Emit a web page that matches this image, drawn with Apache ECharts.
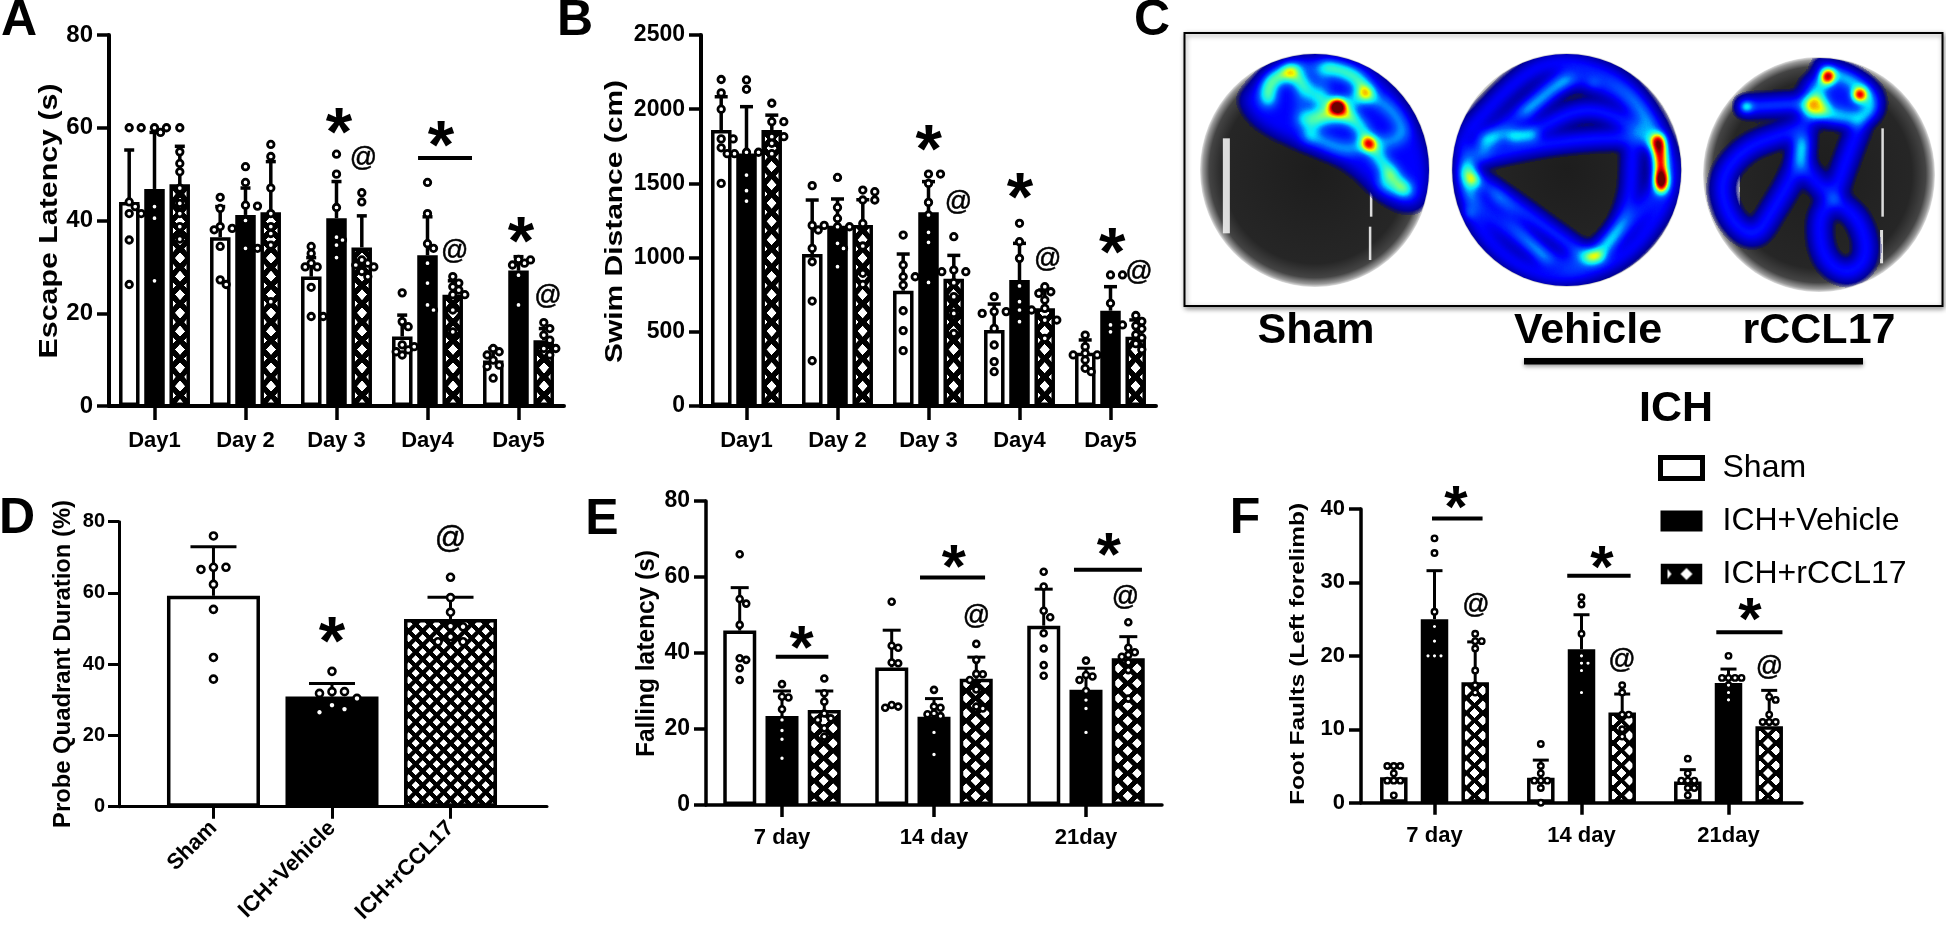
<!DOCTYPE html>
<html><head><meta charset="utf-8">
<style>html,body{margin:0;padding:0;background:#fff}#c{width:1946px;height:928px}</style>
<script src="https://cdn.jsdelivr.net/npm/echarts@6/dist/echarts.min.js"></script>
</head><body><div id="c"></div>
<script>
const groupNames = ['Sham','ICH+Vehicle','ICH+rCCL17'];
const dayLabels = ['Day1','Day 2','Day 3','Day4','Day5'];
const timeLabels = ['7 day','14 day','21day'];

// A: Escape Latency (s)
const escapeMean = [[44,36.4,27.9,15,9.8],[46.8,41.2,40.5,32.5,29.2],[47.8,41.8,34.2,24,14.2]];
const escapeUpper = [[55.2,43,32,19.6,12.4],[59,47,48.4,40.8,32.2],[56,52.7,41,27,16.7]];
const escapeSham = [[60,60,44,43,41.5,41.5,35.8,26.2],[45,42.6,38.7,38.3,38,34.4,27.2,26.2],[34.4,32.9,30.8,30,30,25.6,19.3,19.3],[24.4,18.2,17.1,13.2,12.8,12.1,11.7,11],[12.4,11.7,11,9.9,8.8,8.5,6]];
const escapeVehicle = [[60,60,59,43,40.5,27],[51.6,48.2,43.3,43.1,40,34,34],[54.3,50,42.8,36.4,35.8,34.7,32],[48.2,41.5,35,34,30.8,26.5,21.8,20.7],[31.6,31.5,30.8,30.4,28.2,21.8]];
const escapeCCL = [[60,54.8,52.3,50.5,47,43.7,41.5,38.7,36],[56.4,53.8,47,41.5,38.7,37.2,34.7,22.5],[46,44,31.5,30.8,30.4,30,29,27.9],[27.9,26.5,25.7,25,24,24,20.7,16],[18,16.7,15.3,14.2,12.4,12.4,11]];

// B: Swim Distance (cm)
const swimMean = [[1860,1024,777,512,359],[1702,1215,1305,849,642],[1860,1220,858,658,467]];
const swimUpper = [[2084,1388,1024,687,445],[2017,1395,1512,1096,804],[1960,1390,1015,782,580]];
const swimSham = [[2200,2110,2000,1800,1800,1740,1700,1500],[1485,1217,1217,1186,1062,972,707,305],[1152,950,871,871,815,642,508,373],[737,636,636,624,523,411,299,231],[478,400,355,344,344,310,254,231]];
const swimVehicle = [[2197,2134,1710,1710,1700,1556,1451,1381],[1540,1338,1264,1208,1208,1096,1062,939],[1563,1563,1500,1372,1287,1170,1103,833],[1231,1107,995,809,703,647,647,568],[883,883,692,546,546,500]];
const swimCCL = [[2040,1916,1916,1815,1815,1770,1700],[1455,1444,1388,1388,1230,1078,894,820],[1141,916,905,905,831,737,624,490],[804,770,759,714,658,579,579,456],[610,570,540,520,480,460,420,380]];

// D: Probe Quadrant Duration (%)
const probeMean = [59.2,30.9,52.7];
const probeUpper = [73,34.6,58.8];
const probeSham = [76,67.2,67.2,66.6,62.4,55.4,41.9,35.8];
const probeVehicle = [38,32.3,32.3,31.8,30.4,28.5,27.4,26.5];
const probeCCL = [64.4,58.7,54.6,50.7,50.5,47.7,46.3,46.3];

// E: Falling latency (s)
const fallMean = [[45.9,36.2,47.2],[23.4,23.2,30.3],[25,33.2,38.6]];
const fallUpper = [[57.2,46,56.8],[30,28,36],[30,38.9,44.3]];
const fallSham = [[66,54.2,53,47.4,38.6,38.2,36,32.9],[53.5,41.9,41.4,37.5,37.3,26.3,25.9,25.6],[61.4,57.5,51.1,49.4,45.2,41.2,36.8,34]];
const fallVehicle = [[31.8,28.5,28.3,25.2,22.4,19.6,17.3,12.3],[30.3,25.9,25.6,24.1,23.9,23.4,19.1,13.3],[38,34.2,33.8,32.9,30,27.6,25.4,19.1]];
const fallCCL = [[33.3,29.4,27.2,24.1,22.8,22.4,20.2,18],[42.4,38.2,34.5,34.4,32.9,30.4,25.9,25.4],[48.1,41.4,40.2,39.5,39,37.5,35.5,28]];

// F: Foot Faults (Left forelimb)
const faultMean = [[3.45,3.4,2.9],[25,20.9,16.3],[16.4,12.3,10.4]];
const faultUpper = [[5,5.8,4.5],[31.6,25.6,18.2],[21.9,14.8,15.3]];
const faultSham = [[5,5,5,4,3,3,3,1],[8,5,4,3,3,3,2,0],[6,4,3,3,3,2,2,1]];
const faultVehicle = [[36,34,26,24,22,20,20,20],[28,27,23,20,19,19,18,15],[20,17,17,17,17,16,15,14]];
const faultCCL = [[23,22,22,21,18,16,15],[16,15,12,12,10,9],[14.4,14,12,11,11,11]];

// Significance marks, in axis units: [x, y]
const starsA=[[2.027,61.2],[3.148,58.4],[4.027,37.5]], atsA=[[2.297,53.3],[3.30,33.4],[4.324,23.5]], barsA=[[2.896,3.489,53.5]];
const starsB=[[2.003,1793],[3.004,1469],[4.02,1098]], atsB=[[2.33,1368],[3.31,984],[4.313,896]], barsB=[];
const starsD=[[1,49]], atsD=[[2,74.9]], barsD=[];
const starsE=[[0.128,43.9],[1.13,65],[2.15,68.3]], atsE=[[1.28,49.7],[2.26,54.7]], barsE=[[-0.041,0.305,39],[0.908,1.336,59.9],[1.921,2.368,61.9]];
const starsF=[[0.146,41.5],[1.139,33.3],[2.146,26.2]], atsF=[[0.282,26.9],[1.275,19.4],[2.279,18.4]], barsF=[[-0.017,0.327,38.7],[0.903,1.334,30.9],[1.917,2.367,23.2]];

const FONT = '"Liberation Sans", Arial, sans-serif';

function tile(w, h, rx, ry, px, py){
  const s=4, cw=Math.round(w*s), ch=Math.round(h*s);
  const c=document.createElement('canvas'); c.width=cw; c.height=ch;
  const g=c.getContext('2d');
  g.fillStyle='#000'; g.fillRect(0,0,cw,ch); g.fillStyle='#fff';
  const dia=(x,y)=>{g.beginPath();g.moveTo(x-rx*s,y);g.lineTo(x,y-ry*s);g.lineTo(x+rx*s,y);g.lineTo(x,y+ry*s);g.closePath();g.fill();};
  dia(cw/2,ch/2); [[0,0],[cw,0],[0,ch],[cw,ch]].forEach(p=>dia(p[0],p[1]));
  return {image:c, repeat:'repeat', x:px-w/2, y:py-h/2, scaleX:w/cw, scaleY:h/ch};
}
function legendTile(){
  const c=document.createElement('canvas'); c.width=42; c.height=21;
  const g=c.getContext('2d');
  g.fillStyle='#000'; g.fillRect(0,0,42,21); g.fillStyle='#fff';
  g.beginPath();g.moveTo(7,5.5);g.lineTo(11,10.5);g.lineTo(7,15.5);g.closePath();g.fill();
  g.beginPath();g.moveTo(20,10.5);g.lineTo(26,4.5);g.lineTo(32,10.5);g.lineTo(26,16.5);g.closePath();g.fill();
  return {image:c, repeat:'no-repeat'};
}

function swarm(vals, pxPerUnit, d, step){
  const placed=[];
  return vals.map(v=>{
    const py=v*pxPerUnit;
    for(const k of [0,1,-1,2,-2,3,-3]){
      const x=k*step;
      if(placed.every(p=>Math.hypot(p[0]-x,p[1]-py)>=d)){ placed.push([x,py]); return x; }
    }
    placed.push([0,py]); return 0;
  });
}

const grid=[], xAxis=[], yAxis=[], series=[];

function panel(o){
  const gi=grid.length;
  grid.push({left:o.left, top:o.top, width:o.width, height:o.height, containLabel:false});
  const band=o.band, xMin=o.xMin, xMax=o.xMax;
  const axisStyle={lineStyle:{color:'#000',width:o.lw}};
  const tickStyle={show:true,length:o.tickX,lineStyle:{color:'#000',width:o.tw}};
  const labelStyle={color:'#000',fontFamily:FONT,fontWeight:'bold',fontSize:o.xFont,margin:o.xMargin};
  const ci=xAxis.length;
  if(o.valueX){
    xAxis.push({gridIndex:gi,type:'value',min:xMin,max:xMax,splitLine:{show:false},axisLine:Object.assign({onZero:false},axisStyle),
      axisTick:Object.assign({},tickStyle,{customValues:[0,1,2]}),
      axisLabel:Object.assign({},labelStyle,{customValues:[0,1,2],rotate:o.rotate,formatter:v=>o.labels[v]})});
  } else {
    xAxis.push({gridIndex:gi,type:'category',data:o.labels,boundaryGap:true,axisLine:Object.assign({onZero:false},axisStyle),
      axisTick:Object.assign({},tickStyle,{alignWithLabel:true}),axisLabel:Object.assign({interval:0},labelStyle)});
  }
  const vi=xAxis.length;
  xAxis.push({gridIndex:gi,type:'value',min:xMin,max:xMax,show:false,splitLine:{show:false}});
  const yi=yAxis.length;
  yAxis.push({gridIndex:gi,type:'value',min:0,max:o.max,interval:o.interval,splitLine:{show:false},
    axisLine:Object.assign({show:true,onZero:false},axisStyle),
    axisTick:{show:true,length:o.tickY,lineStyle:{color:'#000',width:o.tw}},
    axisLabel:{color:'#000',fontFamily:FONT,fontWeight:'bold',fontSize:o.yFont,margin:o.yMargin,formatter:v=>String(v)}});

  const fills=[{color:'#fff',borderColor:'#000',borderWidth:o.bw},{color:'#000',borderColor:'#000',borderWidth:o.bw},{color:o.pattern,borderColor:'#000',borderWidth:o.bw}];
  const pxPerUnit=o.height/o.max;
  const offs=[-o.step,0,o.step];

  if(o.valueX){
    series.push({type:'bar',name:'Probe',xAxisIndex:ci,yAxisIndex:yi,barWidth:o.barWidth,z:2,
      data:o.mean.map((v,i)=>({value:[i,v],itemStyle:fills[i]}))});
  } else {
    groupNames.forEach((nm,s)=>series.push({type:'bar',name:nm,xAxisIndex:ci,yAxisIndex:yi,barWidth:o.barWidth,barGap:o.barGap,z:2,itemStyle:fills[s],data:o.mean[s]}));
  }
  const errs=[], pts=[];
  if(o.valueX){
    o.mean.forEach((m,i)=>errs.push([i,m,o.upper[i]]));
    o.points.forEach((vals,i)=>{const xs=swarm(vals,pxPerUnit,o.dot,o.spread);vals.forEach((v,k)=>pts.push([i+xs[k]/band,v]));});
  } else {
    o.mean.forEach((arr,s)=>arr.forEach((m,i)=>errs.push([i+offs[s]/band,m,o.upper[s][i]])));
    o.points.forEach((byGroup,s)=>byGroup.forEach((vals,i)=>{
      const xs=swarm(vals,pxPerUnit,o.dot,o.spread);
      vals.forEach((v,k)=>pts.push([i+(offs[s]+xs[k])/band,v]));
    }));
  }
  series.push({type:'custom',name:'err',xAxisIndex:vi,yAxisIndex:yi,z:3,silent:true,clip:false,encode:{x:0,y:[1,2]},data:errs,
    renderItem:(p,api)=>{
      const a=api.coord([api.value(0),api.value(1)]), b=api.coord([api.value(0),api.value(2)]);
      const st={stroke:'#000',lineWidth:o.ew,fill:null};
      return {type:'group',children:[
        {type:'line',shape:{x1:a[0],y1:a[1],x2:b[0],y2:b[1]},style:st},
        {type:'line',shape:{x1:b[0]-o.cap,y1:b[1],x2:b[0]+o.cap,y2:b[1]},style:st}]};
    }});
  series.push({type:'scatter',name:'pts',xAxisIndex:vi,yAxisIndex:yi,z:4,silent:true,symbol:'circle',symbolSize:o.ms,
    itemStyle:{color:'#fff',borderColor:'#000',borderWidth:o.mb,opacity:1},data:pts});
  const marks=o.bars.map(b=>[b[0],b[2],b[1]]);
  if(marks.length) series.push({type:'custom',name:'sig',xAxisIndex:vi,yAxisIndex:yi,z:5,silent:true,clip:false,encode:{x:[0,2],y:1},data:marks,
    renderItem:(p,api)=>{
      const a=api.coord([api.value(0),api.value(1)]), b=api.coord([api.value(2),api.value(1)]);
      return {type:'line',shape:{x1:a[0],y1:a[1],x2:b[0],y2:b[1]},style:{stroke:'#000',lineWidth:4,fill:null}};
    }});
  const txt=(data,text,font,dy,sw)=>series.push({type:'custom',name:text,xAxisIndex:vi,yAxisIndex:yi,z:6,silent:true,clip:false,encode:{x:0,y:1},data,
    renderItem:(p,api)=>{
      const a=api.coord([api.value(0),api.value(1)]);
      return {type:'text',x:a[0],y:a[1]+dy,style:{text,font,fill:'#000',stroke:sw?'#000':null,lineWidth:sw,align:'center',verticalAlign:'middle'}};
    }});
  txt(o.stars,'*','bold '+o.starFont+'px '+FONT,o.starFont*0.2,0);
  txt(o.ats,'@',o.atFont+'px '+FONT,0,0.5);
}

panel({left:109,top:35,width:455,height:371,band:91,labels:dayLabels,xMin:-0.5,xMax:4.5,max:80,interval:20,
  yFont:24,xFont:22,xMargin:24,yMargin:16,lw:4,tw:3.5,tickX:14,tickY:12,bw:3.5,barWidth:20.5,barGap:'23%',step:25.3,ew:3.5,cap:5,ms:6.5,mb:2.8,dot:6.5,spread:6,
  mean:escapeMean,upper:escapeUpper,points:[escapeSham,escapeVehicle,escapeCCL],stars:starsA,ats:atsA,bars:barsA,starFont:68,atFont:27,
  pattern:tile(18.2,18.3,5,5.5,180,258)});
panel({left:701,top:35,width:455,height:371,band:91,labels:dayLabels,xMin:-0.5,xMax:4.5,max:2500,interval:500,
  yFont:23,xFont:22,xMargin:24,yMargin:16,lw:4,tw:3.5,tickX:14,tickY:12,bw:3.5,barWidth:20.5,barGap:'23%',step:25.3,ew:3.5,cap:6.5,ms:6.5,mb:2.8,dot:6.5,spread:6,
  mean:swimMean,upper:swimUpper,points:[swimSham,swimVehicle,swimCCL],stars:starsB,ats:atsB,bars:barsB,starFont:68,atFont:27,
  pattern:tile(18.2,18.3,5,5.5,771.6,258)});
panel({left:119,top:521.7,width:428,height:285,band:118.5,labels:groupNames,valueX:true,rotate:45,xMin:-0.797,xMax:2.814,max:80,interval:20,
  yFont:20,xFont:22,xMargin:18,yMargin:14,lw:3,tw:3,tickX:12,tickY:11,bw:3.5,barWidth:93,step:0,ew:3,cap:23,ms:7,mb:2.6,dot:8,spread:12.5,
  mean:probeMean,upper:probeUpper,points:[probeSham,probeVehicle,probeCCL],stars:starsD,ats:atsD,bars:barsD,starFont:68,atFont:31,
  pattern:tile(14,14,4,4,450.6,638.3)});
panel({left:706,top:501,width:456,height:304,band:152,labels:timeLabels,xMin:-0.5,xMax:2.5,max:80,interval:20,
  yFont:23,xFont:22,xMargin:22,yMargin:16,lw:3.5,tw:3.5,tickX:12,tickY:12,bw:3.5,barWidth:33,barGap:'28%',step:42.3,ew:3,cap:9,ms:6,mb:2.6,dot:6.5,spread:6.5,
  mean:fallMean,upper:fallUpper,points:[fallSham,fallVehicle,fallCCL],stars:starsE,ats:atsE,bars:barsE,starFont:62,atFont:27,
  pattern:tile(19,15,5,5,823.6,735.7)});
panel({left:1361,top:509,width:441,height:293.7,band:147,labels:timeLabels,xMin:-0.5,xMax:2.5,max:40,interval:10,
  yFont:22,xFont:22,xMargin:22,yMargin:16,lw:3.5,tw:3.5,tickX:12,tickY:12,bw:3.5,barWidth:27.5,barGap:'48%',step:40.7,ew:3,cap:8,ms:5.5,mb:2.4,dot:6.5,spread:6.5,
  mean:faultMean,upper:faultUpper,points:[faultSham,faultVehicle,faultCCL],stars:starsF,ats:atsF,bars:barsF,starFont:60,atFont:27,
  pattern:tile(16.3,15,5,5,1474.6,713)});

// ---- Panel C: tracking heat maps, painted to one bitmap and placed as a graphic ----
function heatBitmap(){
  const X0=1184,Y0=33,W=760,H=274;
  const P=(x,y)=>[x/1.92+1130-X0,y/3-Y0];
  const c=document.createElement('canvas');c.width=W;c.height=H;const g=c.getContext('2d');
  const discs=[[1315,170,115,117],[1566.7,170,115.5,117],[1819,174.5,116,117.5]];
  discs.forEach(d=>{
    const [cx,cy,rx,ry]=d;
    g.save();g.translate(cx-X0,cy-Y0);g.scale(rx/ry,1);
    const r=g.createRadialGradient(0,0,0,0,0,ry);
    r.addColorStop(0,'#1d1d1d');r.addColorStop(.8,'#262626');r.addColorStop(.92,'#444');r.addColorStop(.975,'#9a9a9a');r.addColorStop(1,'#e2e2e2');
    g.fillStyle=r;g.beginPath();g.arc(0,0,ry,0,Math.PI*2);g.fill();g.restore();
  });
  const streak=(x,y1,y2,w)=>{const a=P(x,y1),b=P(x,y2);g.fillStyle='rgba(240,240,240,.9)';g.fillRect(a[0]-w/2,a[1],w,b[1]-a[1]);};
  streak(185,415,700,7);streak(463,570,650,2.5);streak(461,680,780,2.5);streak(1445,385,650,2.5);streak(1443,690,790,3);streak(1165,430,650,6);

  function curve(ctx,pts){
    const p=pts.map(q=>P(q[0],q[1]));
    ctx.beginPath();ctx.moveTo(p[0][0],p[0][1]);
    for(let i=1;i<p.length-1;i++){const mx=(p[i][0]+p[i+1][0])/2,my=(p[i][1]+p[i+1][1])/2;ctx.quadraticCurveTo(p[i][0],p[i][1],mx,my);}
    ctx.lineTo(p[p.length-1][0],p[p.length-1][1]);
  }
  function layer(spec,disc){
    const f=document.createElement('canvas');f.width=W;f.height=H;const k=f.getContext('2d');
    k.filter='blur(6px)';k.globalCompositeOperation='lighter';k.lineCap='round';k.lineJoin='round';
    (spec.fill||[]).forEach(s=>{k.fillStyle='rgba(255,255,255,'+s[0]+')';curve(k,s[1].concat([s[1][0]]));k.closePath();k.fill();});
    spec.tubes.forEach(s=>{k.strokeStyle='rgba(255,255,255,'+s[0]+')';k.lineWidth=s[1];curve(k,s[2]);k.stroke();});
    k.filter='blur(4.5px)';
    spec.hot.forEach(s=>{const p=P(s[1],s[2]);const q=P(s[1]+(s[4]||0),s[2]+(s[5]||0));k.strokeStyle='rgba(255,255,255,'+s[0]+')';k.lineWidth=s[3];k.beginPath();k.moveTo(p[0],p[1]);k.lineTo(q[0]+.01,q[1]);k.stroke();});
    const im=k.getImageData(0,0,W,H),d=im.data;
    const stops=[[0,0,0,110],[.07,0,0,170],[.2,0,0,255],[.32,0,90,255],[.43,0,230,255],[.55,90,255,160],[.66,240,255,0],[.76,255,130,0],[.86,255,0,0],[1,110,0,0]];
    for(let i=0;i<d.length;i+=4){
      const t=d[i+3]/255;
      if(t<.015){d[i+3]=0;continue;}
      let a=stops[0],b=stops[stops.length-1];
      for(let j=0;j<stops.length-1;j++){if(t>=stops[j][0]&&t<=stops[j+1][0]){a=stops[j];b=stops[j+1];break;}}
      const u=(t-a[0])/(b[0]-a[0]||1);
      d[i]=a[1]+(b[1]-a[1])*u;d[i+1]=a[2]+(b[2]-a[2])*u;d[i+2]=a[3]+(b[3]-a[3])*u;
      d[i+3]=Math.min(255,t/.05*255);
    }
    k.putImageData(im,0,0);
    g.save();g.translate(disc[0]-X0,disc[1]-Y0);g.scale(disc[2]/disc[3],1);g.beginPath();g.arc(0,0,disc[3]-1,0,Math.PI*2);g.restore();
    g.save();g.clip();g.drawImage(f,0,0);g.restore();
  }
  // Sham
  layer({fill:[[.2,[[215,300],[250,210],[350,160],[450,190],[500,260],[545,350],[575,500],[565,610],[530,630],[480,590],[420,490],[330,440],[240,370]]]],
    tubes:[[.5,11,[[265,300],[262,240],[310,215]]],[.32,11,[[310,215],[350,290],[400,320]]],[.45,11,[[375,200],[430,215],[455,280]]],[.3,10,[[455,280],[405,320]]],
      [.4,10,[[330,360],[400,320],[440,370],[458,430],[500,520],[530,570]]],[.28,9,[[340,410],[350,360],[420,350]]],
      [.26,9,[[458,430],[535,430],[510,330],[450,280]]],[.28,9,[[458,430],[420,460],[350,410]]],[.28,9,[[500,520],[470,560],[530,570]]],[.16,8,[[330,235],[330,330]]],[.16,8,[[300,200],[370,190],[370,290]]]],
    hot:[[1,398,318,11],[.55,458,432,9]]},discs[0]);
  // Vehicle
  layer({fill:[],tubes:[[.26,15,[[690,410],[760,330],[830,225],[900,250],[960,300],[1010,420],[1022,540],[980,640],[890,770],[830,800],[750,720],[670,620],[640,510],[690,410]]],
      [.3,12,[[680,420],[770,400],[850,330],[910,330],[975,390]]],[.3,12,[[680,470],[800,425],[960,410],[1010,430]]],[.32,12,[[650,520],[700,570],[850,740],[880,770]]],
      [.24,12,[[760,340],[840,240]]],[.3,11,[[900,770],[960,640],[965,450]]],[.24,14,[[640,420],[640,560],[660,670],[730,790],[830,845],[950,780],[1030,620],[1045,500],[1000,340],[940,230],[840,175],[760,210],[650,390]]],
      [.22,10,[[700,590],[800,780]]]],
    hot:[[.75,1015,420,10,5,130],[.5,1020,530,9,0,40],[.26,735,410,10,40,-5],[.28,660,540,10],[.22,650,640,9],[.3,885,772,10,15,-5],[.14,890,250,8]]},discs[1]);
  // rCCL17
  layer({fill:[[.22,[[1290,260],[1330,180],[1440,260],[1440,350],[1390,370],[1300,370]]]],
    tubes:[[.36,12,[[1182,320],[1240,315],[1300,310]]],[.26,15,[[1300,340],[1290,450],[1270,540],[1230,640],[1200,720],[1150,660],[1130,540],[1180,440],[1260,400],[1290,380]]],
      [.26,14,[[1400,380],[1370,500],[1350,600],[1320,650],[1330,780],[1380,830],[1420,770],[1400,650],[1350,600],[1290,500],[1290,430]]],
      [.3,11,[[1330,200],[1400,240],[1430,320],[1400,370],[1300,320],[1340,225]]]],
    hot:[[.55,1182,320,9],[.85,1340,225,10,0,8],[.95,1400,285,11],[.22,1320,320,24],[.18,1352,597,8]]},discs[2]);
  return {image:c,x:X0,y:Y0,W,H};
}
const bmp=heatBitmap();
const T=(text,x,y,size,bold)=>({type:'text',x,y,silent:true,style:{text,font:(bold?'bold ':'')+size+'px '+FONT,fill:'#000',align:'center',verticalAlign:'middle'}});
// Y-axis titles: fitted along their length, since the source figure is stretched vertically
function yTitle(text,cx,cy,len,size){
  const font='bold '+size+'px '+FONT;
  const m=document.createElement('canvas').getContext('2d'); m.font=font;
  return {type:'text',x:cx,y:cy,rotation:Math.PI/2,scaleX:len/m.measureText(text).width,silent:true,
    style:{text,font,fill:'#000',align:'center',verticalAlign:'middle'}};
}
const graphic=[
  {type:'rect',silent:true,shape:{x:1184.5,y:33,width:758,height:273},z:-1,style:{fill:'#fff',stroke:'#000',lineWidth:2,shadowBlur:5,shadowColor:'rgba(0,0,0,.4)',shadowOffsetX:1,shadowOffsetY:2}},
  {type:'image',silent:true,x:bmp.x,y:bmp.y,style:{image:bmp.image,x:0,y:0,width:bmp.W,height:bmp.H}},
  {type:'rect',silent:true,shape:{x:1524,y:358,width:339,height:6.5},style:{fill:'#000',shadowBlur:4,shadowColor:'rgba(0,0,0,.4)',shadowOffsetY:2}},
  T('Sham',1316,331,43,true),T('Vehicle',1588,331,43,true),T('rCCL17',1819,331,43,true),T('ICH',1676,409,43,true),
  T('A',19,21,50,true),T('B',575,21,50,true),T('C',1152,21,50,true),T('D',17,519,50,true),T('E',602,520,50,true),T('F',1245,519,50,true),
  yTitle('Escape Latency (s)',50,221,275,25),
  yTitle('Swim Distance (cm)',615.5,221.5,283,24),
  yTitle('Probe Quadrant Duration (%)',63,664,328,24),
  yTitle('Falling latency (s)',647,653.5,207,25),
  yTitle('Foot Faults (Left forelimb)',1298.7,654,302,21)
];
const option={
  animation:false,
  backgroundColor:'#fff',
  grid,xAxis,yAxis,series,
  graphic:{elements:graphic},
  legend:{orient:'vertical',left:1653,top:447,selectedMode:false,itemWidth:42,itemHeight:21,itemGap:21,
    textStyle:{color:'#000',fontFamily:FONT,fontSize:32,padding:[0,0,0,15]},
    data:[{name:'Sham',icon:'rect',itemStyle:{color:'#fff',borderColor:'#000',borderWidth:5}},
      {name:'ICH+Vehicle',icon:'rect',itemStyle:{color:'#000',borderColor:'#000',borderWidth:0}},
      {name:'ICH+rCCL17',icon:'rect',itemStyle:{color:legendTile(),borderColor:'#000',borderWidth:0}}]}
};
const chart=echarts.init(document.getElementById('c'),null,{renderer:'canvas',width:1946,height:928});
chart.setOption(option);
</script></body></html>
